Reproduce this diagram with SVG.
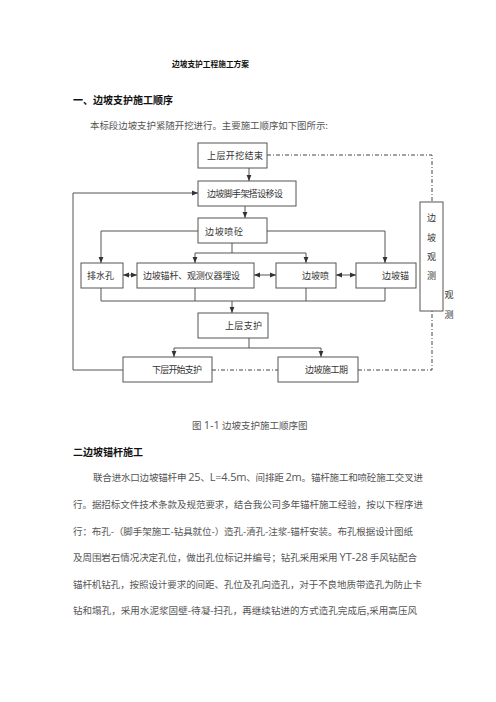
<svg xmlns="http://www.w3.org/2000/svg" width="496" height="702" viewBox="0 0 496 702">
<defs>
<marker id="ah" viewBox="0 0 10 10" refX="10" refY="5" markerWidth="6" markerHeight="6" markerUnits="userSpaceOnUse" orient="auto-start-reverse">
<path d="M0,1 L10,5 L0,9 Z" fill="#333"/>
</marker>
</defs>
<style>
.bx{fill:#fff;stroke:#555;stroke-width:1}
.bt{font-family:"Noto Sans CJK SC","Noto Sans",sans-serif;font-size:9px;fill:#333;dominant-baseline:central}
.ln{fill:none;stroke:#555;stroke-width:1}
.dd{fill:none;stroke:#444;stroke-width:1;stroke-dasharray:4 2 1 2}
.hd{font-family:"Noto Sans CJK SC","Noto Sans",sans-serif;font-weight:bold;fill:#111}
.bd{font-family:"Noto Sans CJK SC","Noto Sans",sans-serif;font-size:9.5px;fill:#555}
.lat{font-family:"Open Sans","Liberation Sans",sans-serif;font-size:11px}
</style>
<rect width="496" height="702" fill="#fff"/>
<text class="hd" x="172" y="67" font-size="7.8" textLength="77" lengthAdjust="spacingAndGlyphs">边坡支护工程施工方案</text>
<text class="hd" x="73" y="104" font-size="10.5" textLength="100" lengthAdjust="spacingAndGlyphs">一、边坡支护施工顺序</text>
<text class="bd" x="90" y="129" font-size="9" textLength="238" lengthAdjust="spacingAndGlyphs">本标段边坡支护紧随开挖进行。主要施工顺序如下图所示:</text>

<g id="connectors">
<path class="ln" d="M249,168 V181" marker-end="url(#ah)"/>
<path class="ln" d="M123,370 H73 V193 H198" marker-end="url(#ah)"/>
<path class="ln" d="M245,206 V218" marker-end="url(#ah)"/>
<path class="ln" d="M198,231 H101 V263" marker-end="url(#ah)"/>
<path class="ln" d="M267,231 H385 V263" marker-end="url(#ah)"/>
<path class="ln" d="M232,243 V253 M195,253 H306"/>
<path class="ln" d="M195,253 V263" marker-end="url(#ah)"/>
<path class="ln" d="M306,253 V263" marker-end="url(#ah)"/>
<path class="ln" d="M123,275 H137" marker-start="url(#ah)" marker-end="url(#ah)"/>
<path class="ln" d="M254,275 H276" marker-start="url(#ah)" marker-end="url(#ah)"/>
<path class="ln" d="M336,275 H356" marker-start="url(#ah)" marker-end="url(#ah)"/>
<path class="ln" d="M101,288 V301 H385 V288 M195,288 V301 M306,288 V301"/>
<path class="ln" d="M232,301 V313" marker-end="url(#ah)"/>
<path class="ln" d="M249,338 V348 M174,348 H321"/>
<path class="ln" d="M174,348 V357" marker-end="url(#ah)"/>
<path class="ln" d="M321,348 V357" marker-end="url(#ah)"/>
<path class="dd" d="M267,155 H432 V202"/>
<path class="dd" d="M212,370 H278"/>
<path class="dd" d="M358,370 H432 V311"/>
</g>

<g id="n1"><rect class="bx" x="198" y="143" width="69" height="25"/><text class="bt" x="207" y="155.5" textLength="56" lengthAdjust="spacing">上层开挖结束</text></g>
<g id="n2"><rect class="bx" x="198" y="181" width="98" height="25"/><text class="bt" x="207" y="193.5" textLength="76" lengthAdjust="spacing">边坡脚手架搭设移设</text></g>
<g id="n3"><rect class="bx" x="198" y="218" width="69" height="25"/><text class="bt" x="205" y="231.5" textLength="38" lengthAdjust="spacing">边坡喷砼</text></g>
<g id="n4"><rect class="bx" x="81" y="263" width="42" height="25"/><text class="bt" x="87" y="275.5" textLength="27" lengthAdjust="spacing">排水孔</text></g>
<g id="n5"><rect class="bx" x="137" y="263" width="117" height="25"/><text class="bt" x="143" y="275.5" textLength="97" lengthAdjust="spacing">边坡锚杆、观测仪器埋设</text></g>
<g id="n6"><rect class="bx" x="276" y="263" width="60" height="25"/><text class="bt" x="302" y="275.5" textLength="27" lengthAdjust="spacing">边坡喷</text></g>
<g id="n7"><rect class="bx" x="356" y="263" width="60" height="25"/><text class="bt" x="382" y="275.5" textLength="27" lengthAdjust="spacing">边坡锚</text></g>
<g id="n8"><rect class="bx" x="198" y="313" width="70" height="25"/><text class="bt" x="225" y="325.5" textLength="37" lengthAdjust="spacing">上层支护</text></g>
<g id="n9"><rect class="bx" x="123" y="357" width="89" height="25"/><text class="bt" x="152" y="369.5" textLength="50" lengthAdjust="spacing">下层开始支护</text></g>
<g id="n10"><rect class="bx" x="278" y="357" width="80" height="25"/><text class="bt" x="305" y="369.5" textLength="43" lengthAdjust="spacing">边坡施工期</text></g>
<g id="n11"><rect class="bx" x="420" y="202" width="23" height="109"/>
<text class="bt" x="431.5" y="217" text-anchor="middle">边</text>
<text class="bt" x="431.5" y="237" text-anchor="middle">坡</text>
<text class="bt" x="431.5" y="256" text-anchor="middle">观</text>
<text class="bt" x="431.5" y="275" text-anchor="middle">测</text>
<text class="bt" x="449" y="294" text-anchor="middle">观</text>
<text class="bt" x="449" y="314" text-anchor="middle">测</text>
</g>

<text class="bd" x="192" y="429" font-size="10">图 <tspan class="lat" font-size="12">1-1</tspan> 边坡支护施工顺序图</text>
<text class="hd" x="73" y="456" font-size="10" textLength="70" lengthAdjust="spacingAndGlyphs">二边坡锚杆施工</text>

<text class="bd" x="93" y="481" textLength="330" lengthAdjust="spacing">联合进水口边坡锚杆申 <tspan class="lat">25</tspan>、<tspan class="lat">L=4.5m</tspan>、间排距 <tspan class="lat">2m</tspan>。锚杆施工和喷砼施工交叉进</text>
<text class="bd" x="73" y="508" textLength="350" lengthAdjust="spacing">行。据招标文件技术条款及规范要求，结合我公司多年锚杆施工经验，按以下程序进</text>
<text class="bd" x="73" y="535" textLength="340" lengthAdjust="spacing">行：布孔-（脚手架施工-钻具就位-）造孔-清孔-注浆-锚杆安装。布孔根据设计图纸</text>
<text class="bd" x="73" y="561" textLength="344" lengthAdjust="spacing">及周围岩石情况决定孔位，做出孔位标记并编号；钻孔采用采用 <tspan class="lat">YT-28</tspan> 手风钻配合</text>
<text class="bd" x="73" y="588" textLength="349" lengthAdjust="spacing">锚杆机钻孔，按照设计要求的间距、孔位及孔向造孔，对于不良地质带造孔为防止卡</text>
<text class="bd" x="73" y="614" textLength="344" lengthAdjust="spacing">钻和塌孔，采用水泥浆固壁-待凝-扫孔，再继续钻进的方式造孔完成后,采用高压风</text>
</svg>
